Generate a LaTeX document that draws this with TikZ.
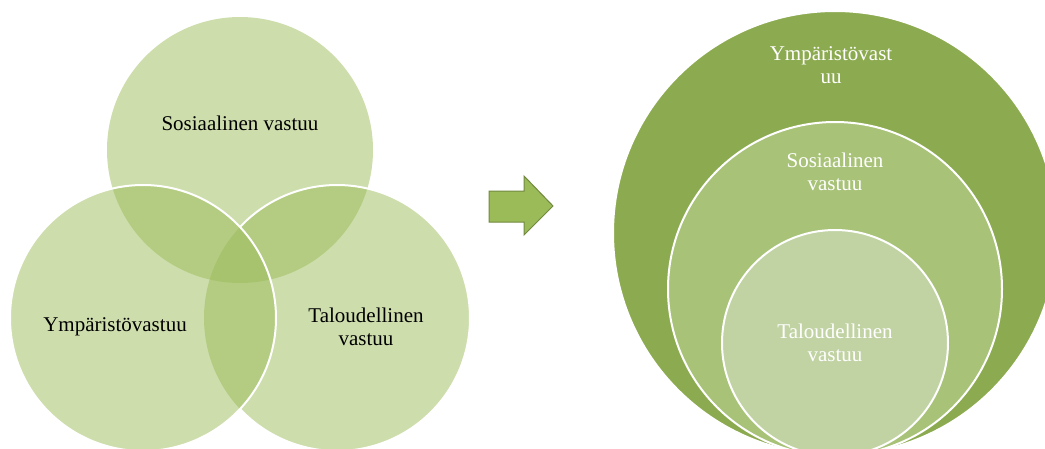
\documentclass[tikz,border=0pt]{standalone}
\usepackage{fontspec}
\setmainfont{Liberation Serif}
\definecolor{leaf}{HTML}{9BBB59}
\definecolor{leafdark}{HTML}{8CAB50}
\definecolor{leafmid}{HTML}{A8C278}
\definecolor{leaflight}{HTML}{C1D3A3}
\definecolor{arrowedge}{HTML}{71893F}

\begin{document}
\begin{tikzpicture}[x=1pt,y=-1pt,
  vennfill/.style={fill=leaf, fill opacity=0.5},
  ring/.style={draw=white, line width=2pt},
  txt/.style={font=\fontsize{21}{23}\selectfont, align=center, inner sep=0pt},
  darktxt/.style={txt, text=black},
  lighttxt/.style={txt, text=white}]
\clip (0,0) rectangle (1045,448);

% --- three overlapping circles ---
\coordinate (soc) at (240,150);
\coordinate (env) at (143,318);
\coordinate (eco) at (337,318);
\fill[vennfill] (soc) circle[radius=133];
\fill[vennfill] (eco) circle[radius=133];
\draw[ring] (eco) ++(-136.8:133) arc[start angle=-136.8, end angle=136.8, radius=133];
\fill[vennfill] (env) circle[radius=133];
\draw[ring] (env) circle[radius=133];

\node[darktxt] (socT) at (240,123) {Sosiaalinen vastuu};
\node[darktxt] (envT) at (115,327) {Ympäristövastuu};
\node[darktxt] (ecoT) at (366,327) {Taloudellinen\\vastuu};

% --- block arrow ---
\filldraw[fill=leaf, draw=arrowedge, line width=1pt]
  (489,191) -- (524,191) -- (524,176) -- (553,206) -- (524,235)
  -- (524,222) -- (489,222) -- cycle;

% --- nested circles ---
\coordinate (outer) at (835,233);
\coordinate (middle) at (835,289);
\coordinate (inner) at (835,343);
\draw[ring, fill=leafdark] (outer) circle[radius=222];
\draw[ring, fill=leafmid] (middle) circle[radius=167];
\draw[ring, fill=leaflight] (inner) circle[radius=113];

\node[lighttxt] (outerT) at (831,65) {Ympäristövast\\uu};
\node[lighttxt] (middleT) at (835,172) {Sosiaalinen\\vastuu};
\node[lighttxt] (innerT) at (835,343) {Taloudellinen\\vastuu};
\end{tikzpicture}
\end{document}
